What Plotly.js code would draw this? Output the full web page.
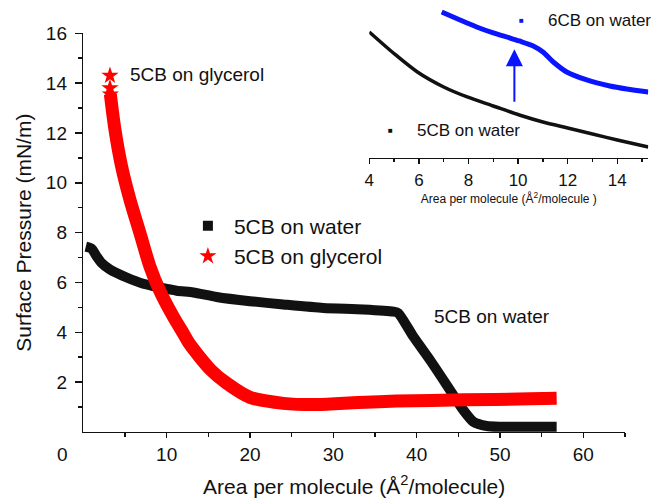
<!DOCTYPE html>
<html>
<head>
<meta charset="utf-8">
<script src="https://cdn.plot.ly/plotly-3.0.1.min.js"></script>
<style>html,body{margin:0;padding:0;background:#fff;}#chart{width:652px;height:499px;}</style>
</head>
<body>
<div id="chart"></div>
<script>
// ---- Main chart data: surface pressure (mN/m) vs area per molecule (Å²/molecule)
const waterArea = [0.3, 1.0, 1.6, 2.2, 3.2, 5.2, 7.2, 9.2, 11.2, 13.2, 16.0, 20.0, 24.0, 28.8, 33.6, 37.2, 37.8, 39.6, 41.6, 43.6, 45.6, 46.8, 48.4, 50.0, 56.8];
const waterPressure = [7.44, 7.36, 7.05, 6.78, 6.52, 6.20, 5.95, 5.80, 5.67, 5.60, 5.42, 5.25, 5.12, 4.98, 4.92, 4.83, 4.77, 3.83, 2.89, 1.89, 0.88, 0.41, 0.24, 0.21, 0.21];

const glycerolArea = [3.2, 3.2, 3.25, 3.3, 3.8, 4.6, 5.6, 6.8, 8.0, 9.2, 10.8, 12.0, 12.7, 15.3, 17.2, 20.0, 24.0, 28.0, 33.0, 37.6, 45.6, 53.6, 56.8];
const glycerolPressure = [14.3, 13.8, 13.55, 13.4, 12.13, 10.65, 9.32, 7.98, 6.64, 5.65, 4.63, 3.96, 3.56, 2.49, 1.96, 1.39, 1.15, 1.10, 1.18, 1.24, 1.29, 1.33, 1.35];

// ---- Inset data (relative pressure scale, y axis not shown)
const inset5cbArea = [4.0, 4.97, 5.94, 7.0, 7.95, 9.0, 10.05, 11.0, 12.0, 13.0, 14.0, 15.25];
const inset5cbPressure = [12.6, 10.5, 8.6, 7.1, 6.1, 5.2, 4.3, 3.6, 3.0, 2.4, 1.8, 1.1];
const inset6cbArea = [6.92, 7.66, 8.33, 9.0, 9.67, 10.05, 10.61, 11.0, 11.42, 11.96, 12.77, 13.7, 14.38, 15.25];
const inset6cbPressure = [14.6, 13.8, 13.1, 12.5, 12.0, 11.7, 11.2, 10.6, 9.6, 8.6, 7.8, 7.2, 6.9, 6.6];

// ---- Tick labels
const xTicks = [10, 20, 30, 40, 50, 60];
const xMinorTicks = [5, 15, 25, 35, 45, 55, 65];
const yTicks = [2, 4, 6, 8, 10, 12, 14, 16];
const yMinorTicks = [1, 3, 5, 7, 9, 11, 13, 15];
const insetTicks = [4, 6, 8, 10, 12, 14];
const insetMinorTicks = [5, 7, 9, 11, 13, 15];

const FONT = 'Arial, "Liberation Sans", sans-serif';
const BLACK = '#111111';
const RED = '#ff0000';
const BLUE = '#0a14ff';

const traces = [
  {x: waterArea, y: waterPressure, mode: 'lines', line: {color: BLACK, width: 10, shape: 'spline', smoothing: 0.6}, showlegend: false, xaxis: 'x', yaxis: 'y', name: '5CB on water'},
  {x: glycerolArea.slice(2), y: glycerolPressure.slice(2), mode: 'lines', line: {color: RED, width: 13, shape: 'spline', smoothing: 0.8}, showlegend: false, xaxis: 'x', yaxis: 'y', name: '5CB on glycerol'},
  {x: [null], y: [null], mode: 'markers', marker: {symbol: 'square', size: 10, color: BLACK}, name: '5CB on water', showlegend: true},
  {x: glycerolArea.slice(0, 3), y: glycerolPressure.slice(0, 3), mode: 'markers', marker: {symbol: 'star', size: 13, color: RED}, name: '5CB on glycerol', showlegend: true, xaxis: 'x', yaxis: 'y'},
  {x: inset5cbArea, y: inset5cbPressure, mode: 'lines', line: {color: BLACK, width: 3.5, shape: 'spline', smoothing: 0.8}, showlegend: false, xaxis: 'x2', yaxis: 'y2', name: '5CB on water (inset)'},
  {x: inset6cbArea, y: inset6cbPressure, mode: 'lines', line: {color: BLUE, width: 5, shape: 'spline', smoothing: 0.8}, showlegend: false, xaxis: 'x2', yaxis: 'y2', name: '6CB on water'}
];

const layout = {
  width: 652, height: 499,
  margin: {l: 0, r: 0, t: 0, b: 0},
  paper_bgcolor: '#fff', plot_bgcolor: 'rgba(0,0,0,0)',
  font: {family: FONT, color: BLACK},
  showlegend: true,
  legend: {x: 0.279, y: 0.588, xanchor: 'left', yanchor: 'top', font: {size: 21, family: FONT, color: BLACK},
           bgcolor: 'rgba(0,0,0,0)', borderwidth: 0, itemwidth: 42, tracegroupgap: 0},
  xaxis: {
    domain: [0.12776, 0.95859], range: [0, 65], anchor: 'y',
    showgrid: false, zeroline: false, showline: true, linecolor: BLACK, linewidth: 1.5,
    tickmode: 'array', tickvals: xTicks, ticks: 'outside', ticklen: 5, tickwidth: 1.5, tickcolor: BLACK,
    minor: {tickmode: 'array', tickvals: xMinorTicks, ticks: 'outside', ticklen: 4, tickwidth: 1.5, tickcolor: BLACK, showgrid: false},
    tickfont: {size: 19, family: FONT, color: BLACK}, ticklabelstandoff: 0,
    title: {text: 'Area per molecule (Å<sup>2</sup>/molecule)', font: {size: 21, family: FONT, color: BLACK}, standoff: 15}
  },
  yaxis: {
    domain: [0.13427, 0.93327], range: [0, 16], anchor: 'x',
    showgrid: false, zeroline: false, showline: true, linecolor: BLACK, linewidth: 1.5,
    tickmode: 'array', tickvals: yTicks, ticks: 'outside', ticklen: 7, tickwidth: 1.5, tickcolor: BLACK,
    minor: {tickmode: 'array', tickvals: yMinorTicks, ticks: 'outside', ticklen: 4, tickwidth: 1.5, tickcolor: BLACK, showgrid: false},
    tickfont: {size: 19, family: FONT, color: BLACK}, ticklabelstandoff: 4,
    title: {text: 'Surface Pressure (mN/m)', font: {size: 21, family: FONT, color: BLACK}, standoff: 8}
  },
  xaxis2: {
    domain: [0.5664, 0.99433], range: [4, 15.25], anchor: 'y2',
    showgrid: false, zeroline: false, showline: true, linecolor: BLACK, linewidth: 1.5,
    tickmode: 'array', tickvals: insetTicks, ticks: 'outside', ticklen: 5, tickwidth: 1.5, tickcolor: BLACK,
    minor: {tickmode: 'array', tickvals: insetMinorTicks, ticks: 'outside', ticklen: 3, tickwidth: 1.5, tickcolor: BLACK, showgrid: false},
    tickfont: {size: 17, family: FONT, color: BLACK}, ticklabelstandoff: 1,
    title: {text: 'Area per molecule (Å<sup>2</sup>/molecule )', font: {size: 12, family: FONT, color: BLACK}, standoff: 2}
  },
  yaxis2: {domain: [0.6834, 0.99], range: [0, 15.3], anchor: 'x2', visible: false},
  annotations: [
    {xref: 'paper', yref: 'paper', x: 0.0966, y: 0.0882, xanchor: 'center', yanchor: 'middle', text: '0', showarrow: false, font: {size: 19, family: FONT, color: BLACK}},
    {xref: 'paper', yref: 'paper', x: 0.1968, y: 0.8497, xanchor: 'left', yanchor: 'middle', text: '5CB on glycerol', showarrow: false, font: {size: 19, family: FONT, color: BLACK}},
    {xref: 'paper', yref: 'paper', x: 0.6621, y: 0.3653, xanchor: 'left', yanchor: 'middle', text: '5CB on water', showarrow: false, font: {size: 19, family: FONT, color: BLACK}},
    {xref: 'paper', yref: 'paper', x: 0.8006, y: 0.9599, xanchor: 'center', yanchor: 'middle', text: '■', showarrow: false, font: {size: 8, color: BLUE}},
    {xref: 'paper', yref: 'paper', x: 0.837, y: 0.9599, xanchor: 'left', yanchor: 'middle', text: '6CB on water', showarrow: false, font: {size: 17, family: FONT, color: BLACK}},
    {xref: 'paper', yref: 'paper', x: 0.5992, y: 0.7375, xanchor: 'center', yanchor: 'middle', text: '■', showarrow: false, font: {size: 8, color: BLACK}},
    {xref: 'paper', yref: 'paper', x: 0.6365, y: 0.7375, xanchor: 'left', yanchor: 'middle', text: '5CB on water', showarrow: false, font: {size: 17, family: FONT, color: BLACK}},
    {xref: 'x2', yref: 'y2', x: 9.85, y: 10.87, axref: 'x2', ayref: 'y2', ax: 9.85, ay: 5.47, text: '', showarrow: true,
     arrowhead: 2, arrowsize: 1.7, arrowwidth: 2, arrowcolor: BLUE}
  ]
};

Plotly.newPlot('chart', traces, layout, {staticPlot: true, displayModeBar: false});
</script>
</body>
</html>
